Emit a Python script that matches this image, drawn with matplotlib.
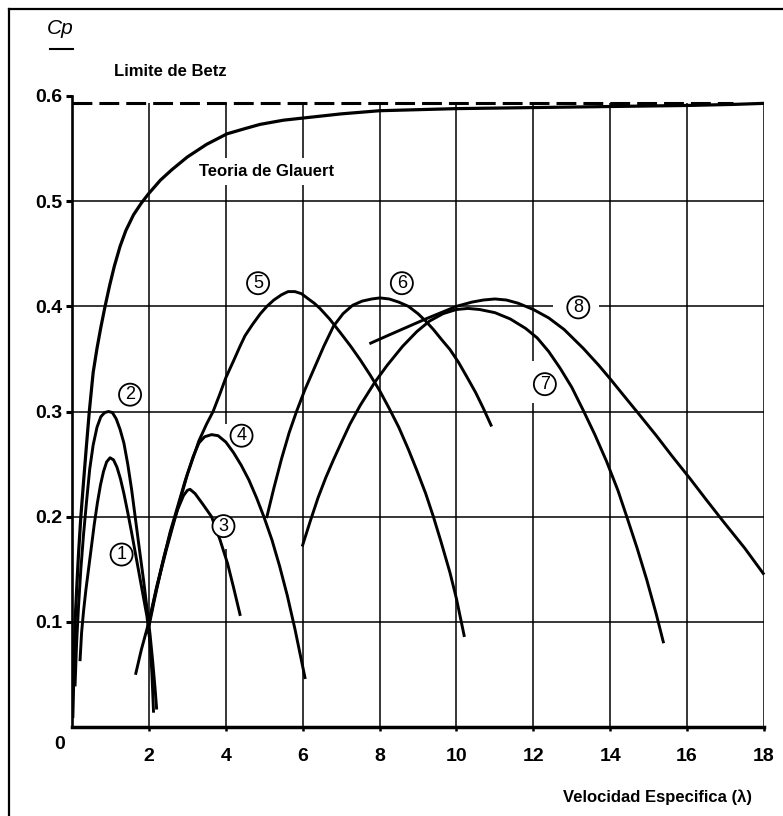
import matplotlib.pyplot as plt
from matplotlib.lines import Line2D

plt.rcParams['font.family'] = ['Liberation Sans', 'DejaVu Sans']

# Coeficiente de potencia frente a velocidad especifica
betz = 0.593

glauert_x = [0.02, 0.05, 0.08, 0.12, 0.17, 0.23, 0.3, 0.37, 0.45, 0.55, 0.65, 0.75, 0.86, 0.98, 1.1,
             1.25, 1.4, 1.6, 1.8, 1.99, 2.3, 2.6, 3.0, 3.5, 4.03, 4.5, 4.89, 5.5, 6.0, 7.0, 8.0, 9.0,
             10.0, 12.0, 14.0, 16.0, 17.2, 18.0]
glauert_y = [0.01, 0.055, 0.10, 0.13, 0.165, 0.20, 0.233, 0.265, 0.30, 0.337, 0.36, 0.38, 0.40, 0.42, 0.438,
             0.457, 0.472, 0.487, 0.498, 0.507, 0.52, 0.53, 0.542, 0.554, 0.564, 0.569, 0.573, 0.577, 0.579,
             0.583, 0.586, 0.587, 0.588, 0.589, 0.590, 0.591, 0.592, 0.593]

c1_x = [0.21, 0.25, 0.3, 0.36, 0.43, 0.5, 0.58, 0.66, 0.74, 0.82, 0.9, 0.99, 1.08, 1.17, 1.26, 1.35,
        1.45, 1.55, 1.65, 1.75, 1.85, 1.95, 2.03, 2.08, 2.12]
c1_y = [0.064, 0.09, 0.11, 0.13, 0.15, 0.17, 0.193, 0.213, 0.23, 0.243, 0.252, 0.256, 0.254, 0.247, 0.236, 0.222,
        0.204, 0.185, 0.165, 0.145, 0.125, 0.105, 0.08, 0.05, 0.015]

c2_x = [0.08, 0.12, 0.17, 0.23, 0.3, 0.38, 0.46, 0.55, 0.65, 0.75, 0.85, 0.95, 1.05, 1.15, 1.25, 1.35,
        1.45, 1.55, 1.65, 1.75, 1.86, 1.95, 2.03, 2.1, 2.16, 2.2]
c2_y = [0.04, 0.08, 0.115, 0.15, 0.183, 0.215, 0.245, 0.268, 0.285, 0.295, 0.299, 0.300, 0.299, 0.293, 0.283, 0.27,
        0.25, 0.226, 0.198, 0.17, 0.14, 0.113, 0.088, 0.062, 0.037, 0.018]

c3_x = [1.66, 1.8, 2.0, 2.2, 2.4, 2.6, 2.75, 2.9, 3.0, 3.07, 3.2, 3.4, 3.63, 3.85, 4.05, 4.2, 4.37]
c3_y = [0.051, 0.073, 0.10, 0.133, 0.163, 0.19, 0.207, 0.22, 0.225, 0.226, 0.222, 0.212, 0.20, 0.178, 0.155, 0.133, 0.107]

c4_x = [1.97, 2.15, 2.35, 2.55, 2.75, 2.95, 3.15, 3.3, 3.45, 3.63, 3.8, 4.0, 4.2, 4.4, 4.6, 4.8, 4.99,
        5.2, 5.4, 5.6, 5.8, 6.06]
c4_y = [0.09, 0.122, 0.155, 0.185, 0.21, 0.235, 0.257, 0.27, 0.276, 0.278, 0.277, 0.271, 0.261, 0.249, 0.235, 0.218, 0.20,
        0.178, 0.153, 0.125, 0.093, 0.047]

c5_x = [1.98, 2.2, 2.45, 2.75, 3.0, 3.3, 3.5, 3.67, 3.85, 4.0, 4.2, 4.37, 4.5, 4.7, 4.9, 5.07, 5.25, 5.45,
        5.62, 5.8, 5.97, 6.15, 6.3, 6.45, 6.7, 7.0, 7.25, 7.5, 7.75, 8.0, 8.25, 8.5, 8.75, 8.97, 9.2, 9.4,
        9.6, 9.83, 10.0, 10.2]
c5_y = [0.095, 0.132, 0.168, 0.208, 0.24, 0.272, 0.288, 0.30, 0.317, 0.332, 0.348, 0.362, 0.372, 0.383, 0.393, 0.40,
        0.406, 0.411, 0.414, 0.414, 0.412, 0.407, 0.403, 0.398, 0.388, 0.374, 0.362, 0.349, 0.335, 0.32, 0.303,
        0.285, 0.264, 0.244, 0.222, 0.20, 0.176, 0.147, 0.122, 0.087]

c6_x = [5.07, 5.25, 5.45, 5.65, 5.84, 6.05, 6.3, 6.55, 6.8, 7.05, 7.3, 7.55, 7.8, 8.01, 8.25, 8.5, 8.75,
        9.0, 9.2, 9.4, 9.6, 9.83, 10.05, 10.27, 10.5, 10.7, 10.9]
c6_y = [0.20, 0.227, 0.255, 0.28, 0.30, 0.32, 0.341, 0.362, 0.381, 0.393, 0.401, 0.405, 0.407, 0.408, 0.407, 0.404, 0.40,
        0.393, 0.386, 0.378, 0.369, 0.359, 0.347, 0.333, 0.318, 0.303, 0.287]

c7_x = [6.0, 6.2, 6.4, 6.6, 6.8, 7.0, 7.23, 7.5, 7.88, 8.2, 8.6, 8.97, 9.3, 9.65, 10.0, 10.3, 10.6, 11.0,
        11.4, 11.8, 12.1, 12.4, 12.7, 13.0, 13.3, 13.6, 13.9, 14.2, 14.43, 14.7, 14.95, 15.2, 15.38]
c7_y = [0.173, 0.196, 0.218, 0.237, 0.254, 0.27, 0.288, 0.306, 0.328, 0.344, 0.362, 0.376, 0.386, 0.393, 0.397, 0.398,
        0.397, 0.394, 0.388, 0.379, 0.37, 0.357, 0.341, 0.323, 0.301, 0.278, 0.253, 0.225, 0.20, 0.17, 0.14, 0.107, 0.081]

c8_x = [7.77, 8.2, 8.7, 9.2, 9.6, 10.0, 10.4, 10.7, 11.0, 11.3, 11.6, 12.0, 12.4, 12.8, 13.3, 13.7, 14.0,
        14.4, 14.78, 15.2, 15.6, 16.08, 16.5, 16.95, 17.5, 17.98]
c8_y = [0.365, 0.372, 0.38, 0.388, 0.394, 0.40, 0.404, 0.406, 0.407, 0.406, 0.403, 0.397, 0.389, 0.378, 0.36, 0.344,
        0.331, 0.313, 0.296, 0.277, 0.258, 0.236, 0.216, 0.195, 0.17, 0.146]

curvas = [(c1_x, c1_y), (c2_x, c2_y), (c3_x, c3_y), (c4_x, c4_y),
          (c5_x, c5_y), (c6_x, c6_y), (c7_x, c7_y), (c8_x, c8_y)]

rotor_nums = ['1', '2', '3', '4', '5', '6', '7', '8']
num_x = [1.29, 1.51, 3.94, 4.41, 4.84, 8.58, 12.3, 13.17]
num_y = [0.164, 0.316, 0.191, 0.277, 0.422, 0.422, 0.326, 0.399]

x_ticks = [2, 4, 6, 8, 10, 12, 14, 16, 18]
y_ticks = [0.1, 0.2, 0.3, 0.4, 0.5, 0.6]
grid_y = [0.1, 0.2, 0.3, 0.4, 0.5]

W, H = 783, 816
fig = plt.figure(figsize=(W / 100, H / 100), dpi=100)
ax = fig.add_axes([72 / W, 89 / H, 692 / W, 631 / H])
ax.set_xlim(0, 18)
ax.set_ylim(0, 0.6)

# rejilla: verticales hasta el limite de Betz
ax.vlines(x_ticks, 0, betz, color='black', lw=1.1, zorder=1)
ax.hlines(grid_y, 0, 18, color='black', lw=1.1, zorder=1)

# huecos de la rejilla alrededor de los rotulos
ax.vlines(4, 0.169, 0.288, color='white', lw=3, zorder=1.5)
ax.vlines(12, 0.308, 0.348, color='white', lw=3, zorder=1.5)
ax.hlines(0.4, 12.5, 13.7, color='white', lw=3, zorder=1.5)

ax.plot([0, 17.2], [betz, betz], color='black', lw=2.2, ls=(0, (6.5, 2.3)), zorder=3)
ax.plot(glauert_x, glauert_y, color='black', lw=2.3, zorder=3)
for cx, cy in curvas:
    ax.plot(cx, cy, color='black', lw=2.1, zorder=3, clip_on=False)

for t, x, y in zip(rotor_nums, num_x, num_y):
    ax.text(x, y, t, ha='center', va='center', fontsize=13, zorder=4,
            bbox=dict(boxstyle='circle,pad=0.14', fc='white', ec='black', lw=1.3))

ax.text(5.07, 0.528, 'Teoria de Glauert', ha='center', va='center', fontsize=12,
        fontweight='bold', zorder=2, bbox=dict(boxstyle='square,pad=0.35', fc='white', ec='none'))
ax.text(2.55, 0.623, 'Limite de Betz', ha='center', va='center', fontsize=12,
        fontweight='bold', clip_on=False)
ax.text(15.22, -0.067, 'Velocidad Especifica (λ)', ha='center', va='center', fontsize=12,
        fontweight='bold', clip_on=False)
ax.text(-0.31, -0.017, '0', ha='center', va='center', fontsize=14, fontweight='bold', clip_on=False)
ax.text(-0.3, 0.664, 'Cp', ha='center', va='center', fontsize=15, style='italic', clip_on=False)
ax.plot([-0.58, 0.02], [0.645, 0.645], color='black', lw=1.5, clip_on=False)

for s in ['top', 'right']:
    ax.spines[s].set_visible(False)
ax.spines['left'].set_linewidth(1.9)
ax.spines['bottom'].set_linewidth(2.5)
ax.set_xticks(x_ticks)
ax.set_yticks(y_ticks)
ax.set_xticklabels([str(v) for v in x_ticks], fontweight='bold')
ax.set_yticklabels([f'{v:.1f}' for v in y_ticks], fontweight='bold')
ax.tick_params(axis='y', direction='out', length=4, width=2.2, pad=3, labelsize=14)
ax.tick_params(axis='x', direction='out', length=3, width=1.8, pad=12, labelsize=14)

# marco de la figura
fig.add_artist(Line2D([9 / W, 1], [1 - 9 / H, 1 - 9 / H], color='black', lw=1.6))
fig.add_artist(Line2D([9 / W, 9 / W], [0, 1 - 9 / H], color='black', lw=1.6))

fig.savefig('out.png', dpi=100)
